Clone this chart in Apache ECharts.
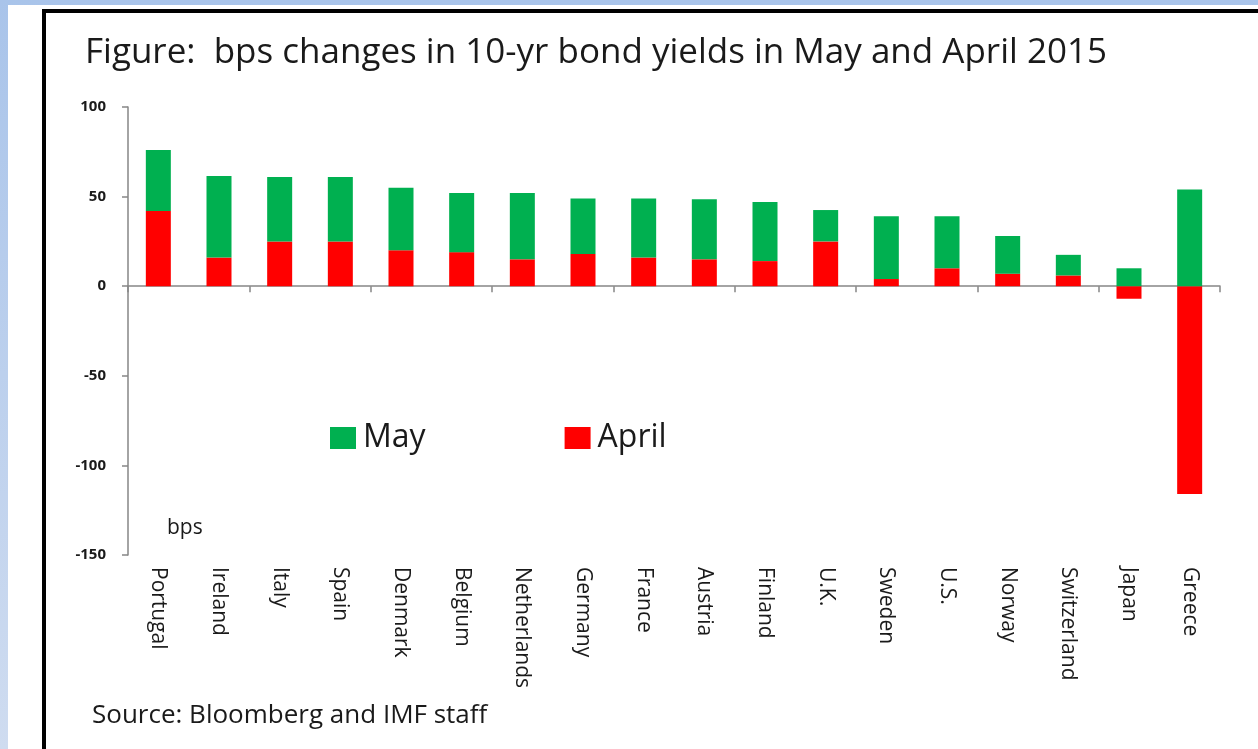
<!DOCTYPE html>
<html>
<head>
<meta charset="utf-8">
<script src="https://cdn.jsdelivr.net/npm/echarts@6/dist/echarts.min.js"></script>
<style>
  html, body { margin: 0; padding: 0; width: 1258px; height: 749px; overflow: hidden; }
  body { background: linear-gradient(#a9c4ea, #cfdcf0); position: relative; }
  #sheet { position: absolute; left: 8px; top: 5px; right: 0; bottom: 0; background: #ffffff; }
  #frame { position: absolute; left: 42px; top: 9px; width: 1300px; height: 800px;
           border: 4px solid #000000; background: #ffffff; }
  #chart { position: absolute; left: 0; top: 0; width: 1258px; height: 749px; }
</style>
</head>
<body>
<div id="sheet"></div>
<div id="frame"></div>
<div id="chart"></div>
<script>
  /* bps changes in 10-yr bond yields, April stacked under May */
  const countries = ["Portugal", "Ireland", "Italy", "Spain", "Denmark", "Belgium",
    "Netherlands", "Germany", "France", "Austria", "Finland", "U.K.", "Sweden",
    "U.S.", "Norway", "Switzerland", "Japan", "Greece"];
  const april = [42, 16, 25, 25, 20, 19, 15, 18, 16, 15, 14, 25, 4, 10, 7, 6, -7, -116];
  const may = [34, 45.5, 36, 36, 35, 33, 37, 31, 33, 33.5, 33, 17.5, 35, 29, 21, 11.5, 10, 54];
  const yTicks = { min: -150, max: 100, step: 50 };

  const GREEN = "#00b050";
  const RED = "#ff0000";
  const AXIS = "#868686";
  const TEXT = "#1a1a1a";
  const FONT = "'Open Sans', Lato, sans-serif";

  const inst = echarts.init(document.getElementById("chart"), null, { renderer: "canvas" });

  inst.setOption({
    animation: false,
    textStyle: { fontFamily: FONT },
    title: [
      {
        text: "Figure:  bps changes in 10-yr bond yields in May and April 2015",
        left: 80, top: 31,
        textStyle: { fontSize: 35, fontWeight: "normal", color: TEXT, fontFamily: FONT },
      },
      {
        text: "bps", left: 162, top: 513,
        textStyle: { fontSize: 21, fontWeight: "normal", color: TEXT, fontFamily: FONT },
      },
      {
        text: "Source: Bloomberg and IMF staff", left: 87, top: 698,
        textStyle: { fontSize: 26, fontWeight: "normal", color: TEXT, fontFamily: FONT },
      },
    ],
    legend: {
      data: ["May", "April"],
      left: 325, top: 417,
      itemWidth: 26, itemHeight: 22, itemGap: 139,
      icon: "rect",
      textStyle: { fontSize: 32, color: TEXT, fontFamily: FONT, padding: [0, 0, 0, 2] },
    },
    grid: { left: 128, right: 38, top: 107, bottom: 194 },
    xAxis: [
      {
        type: "category", data: countries, position: "bottom",
        axisLine: { onZero: true, lineStyle: { color: AXIS, width: 1.5 } },
        axisTick: { show: true, length: 6, lineStyle: { color: AXIS, width: 1.5 } },
        axisLabel: { show: false },
      },
      {
        type: "category", data: countries, position: "bottom",
        axisLine: { show: false, onZero: false },
        axisTick: { show: false },
        axisLabel: {
          rotate: -90, margin: 12, fontSize: 21, color: TEXT, fontFamily: FONT,
          interval: 0,
        },
      },
    ],
    yAxis: {
      type: "value", min: yTicks.min, max: yTicks.max, interval: yTicks.step,
      axisLine: { show: true, lineStyle: { color: AXIS, width: 1.5 } },
      axisTick: { show: true, length: 6, lineStyle: { color: AXIS, width: 1.5 } },
      axisLabel: { fontSize: 15, fontWeight: "bold", color: TEXT, fontFamily: FONT, margin: 22 },
      splitLine: { show: false },
    },
    series: [
      {
        name: "April", type: "bar", stack: "m", data: april,
        barWidth: 25, itemStyle: { color: RED },
      },
      {
        name: "May", type: "bar", stack: "m", data: may,
        barWidth: 25, itemStyle: { color: GREEN },
      },
    ],
  });
</script>
</body>
</html>
